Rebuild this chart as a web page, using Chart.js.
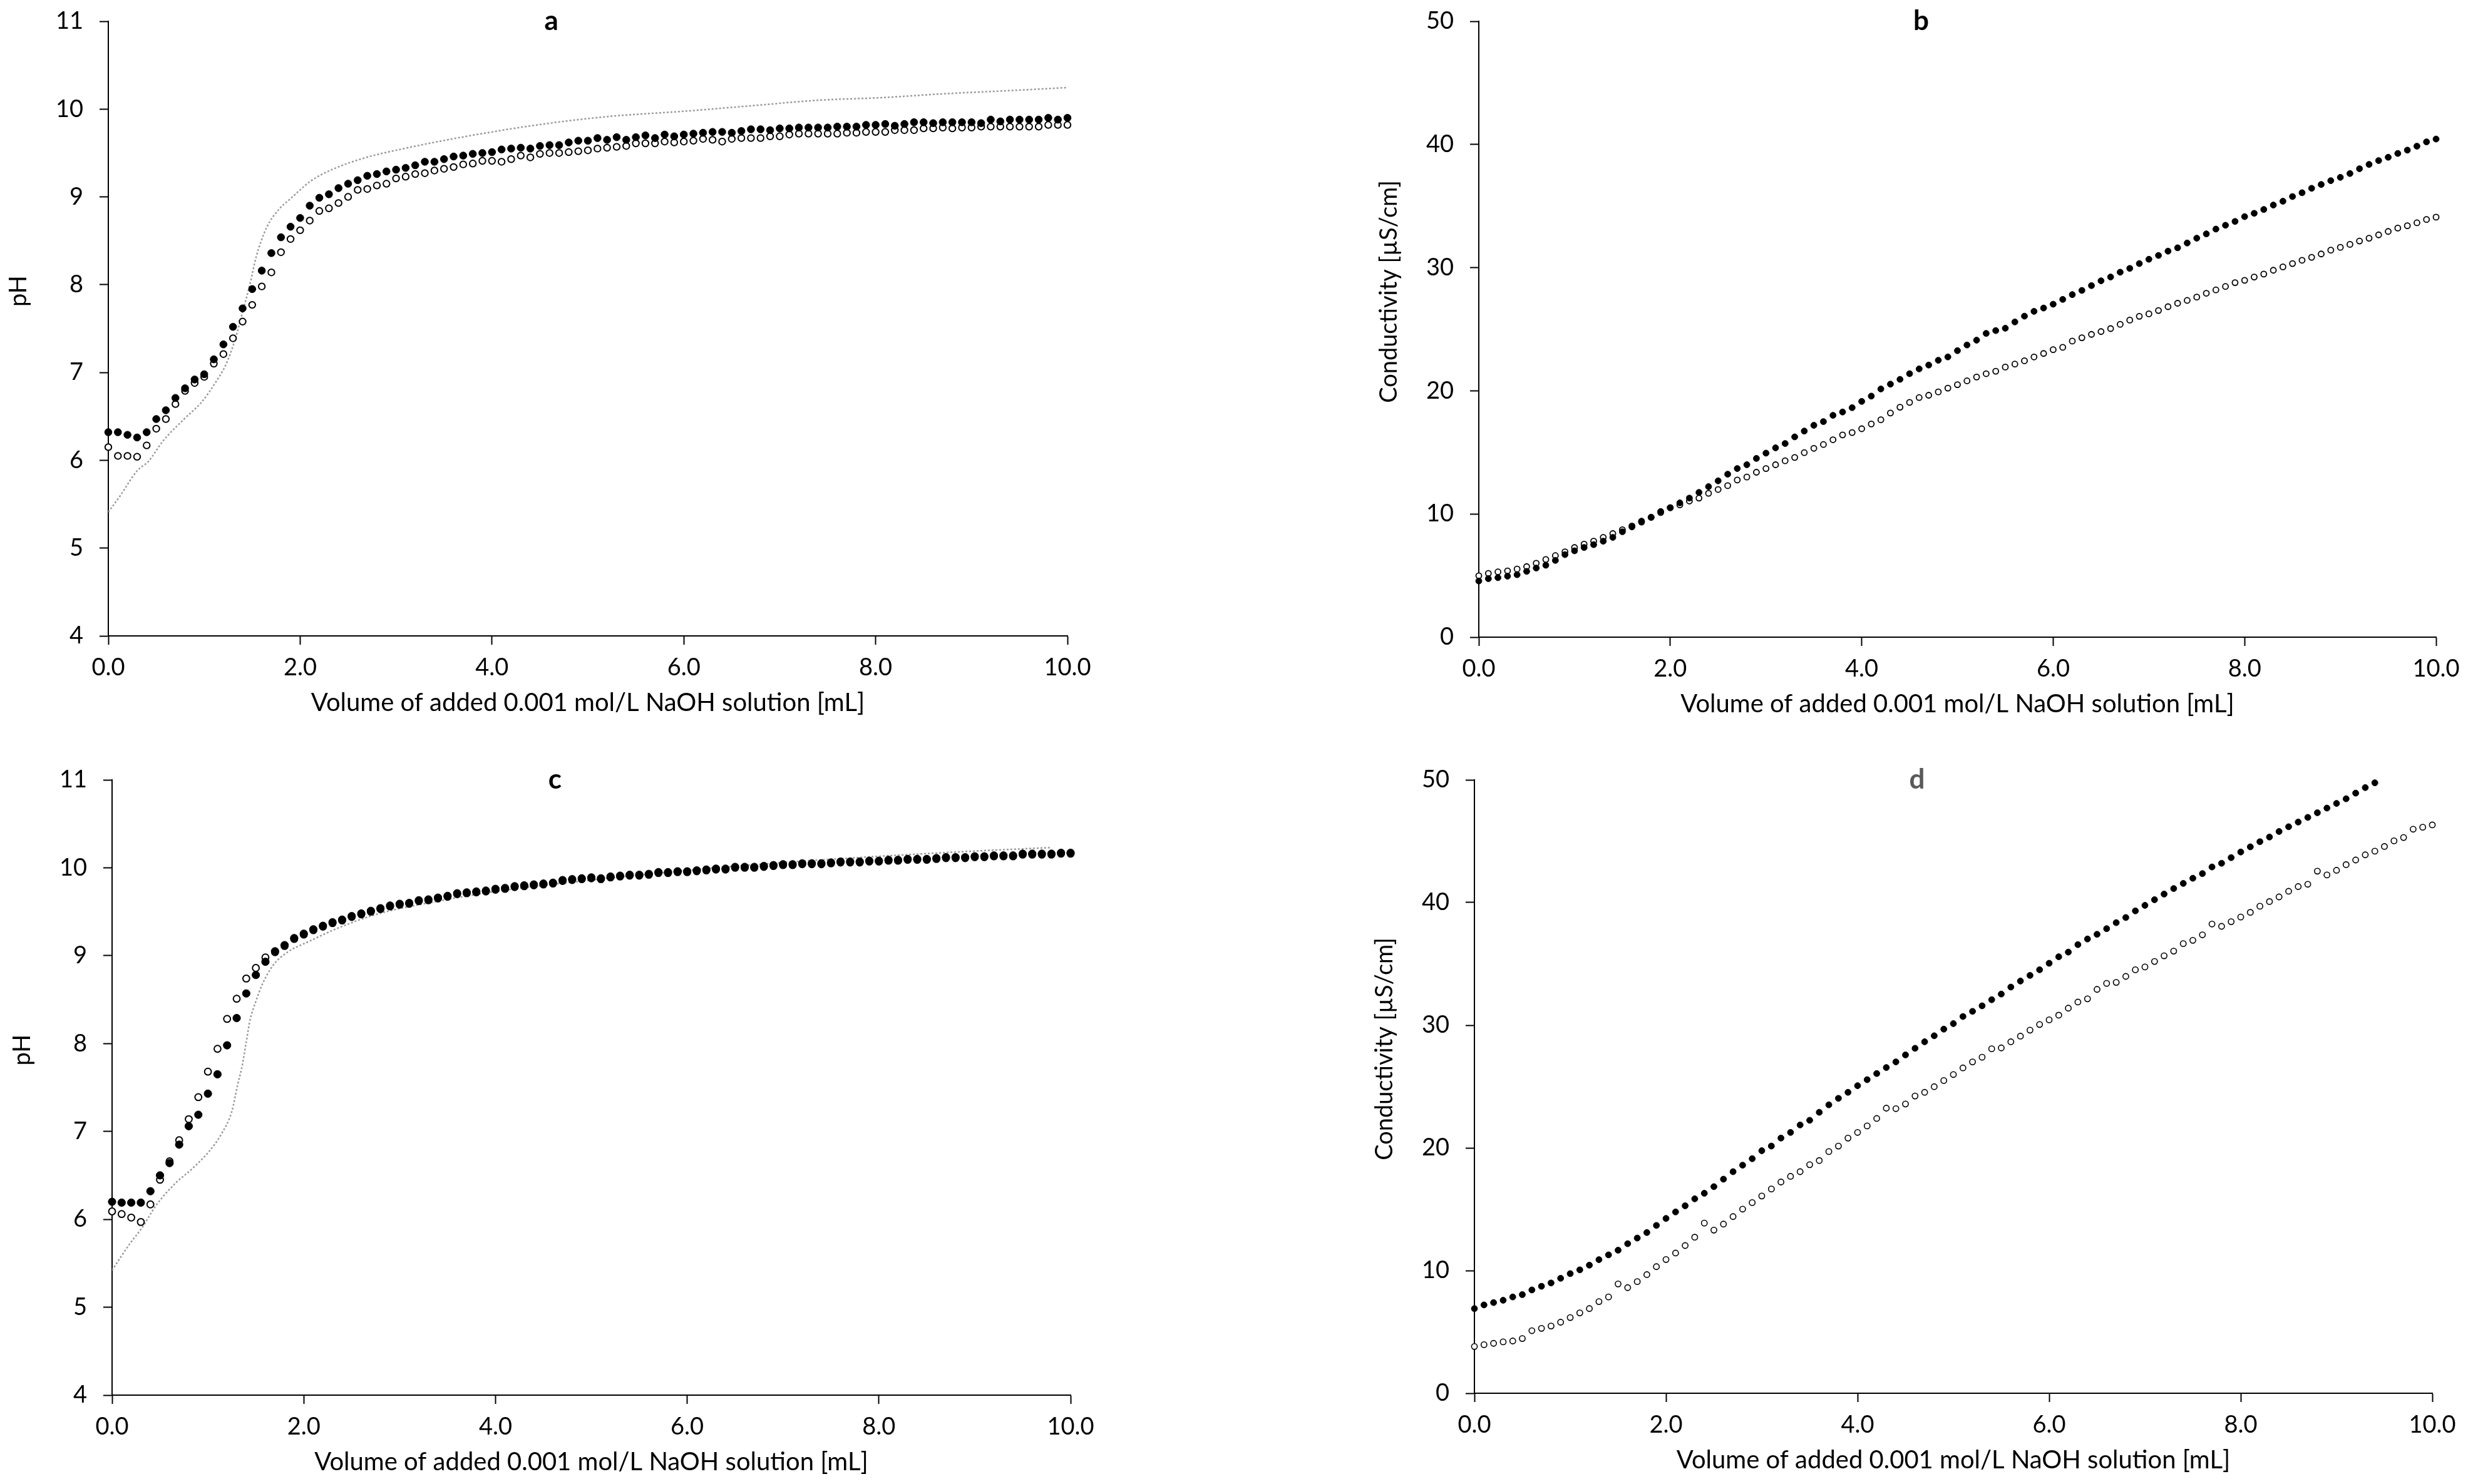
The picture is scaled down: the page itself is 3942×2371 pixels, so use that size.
<!DOCTYPE html>
<html>
<head>
<meta charset="utf-8">
<title>Titration with 0.001 mol/L NaOH</title>
<script src="https://cdn.jsdelivr.net/npm/chart.js@4.4.1/dist/chart.umd.min.js"></script>
<style>
    html, body { margin: 0; padding: 0; background: #ffffff; }
    body { width: 3942px; height: 2371px; position: relative; overflow: hidden; }
    canvas { position: absolute; }
</style>
</head>
<body>
<canvas id="chartA"></canvas>
<canvas id="chartB"></canvas>
<canvas id="chartC"></canvas>
<canvas id="chartD"></canvas>
<script>
// Volume of added NaOH [mL], one reading every 0.1 mL
const volume = [
    0.0, 0.1, 0.2, 0.3, 0.4, 0.5, 0.6, 0.7, 0.8, 0.9,
    1.0, 1.1, 1.2, 1.3, 1.4, 1.5, 1.6, 1.7, 1.8, 1.9,
    2.0, 2.1, 2.2, 2.3, 2.4, 2.5, 2.6, 2.7, 2.8, 2.9,
    3.0, 3.1, 3.2, 3.3, 3.4, 3.5, 3.6, 3.7, 3.8, 3.9,
    4.0, 4.1, 4.2, 4.3, 4.4, 4.5, 4.6, 4.7, 4.8, 4.9,
    5.0, 5.1, 5.2, 5.3, 5.4, 5.5, 5.6, 5.7, 5.8, 5.9,
    6.0, 6.1, 6.2, 6.3, 6.4, 6.5, 6.6, 6.7, 6.8, 6.9,
    7.0, 7.1, 7.2, 7.3, 7.4, 7.5, 7.6, 7.7, 7.8, 7.9,
    8.0, 8.1, 8.2, 8.3, 8.4, 8.5, 8.6, 8.7, 8.8, 8.9,
    9.0, 9.1, 9.2, 9.3, 9.4, 9.5, 9.6, 9.7, 9.8, 9.9,
    10.0
];

// panel a - pH
const phA_filled = [
    6.32, 6.32, 6.29, 6.26, 6.32, 6.47, 6.57, 6.71, 6.82, 6.92,
    6.98, 7.15, 7.32, 7.52, 7.73, 7.95, 8.16, 8.36, 8.54, 8.66,
    8.76, 8.90, 8.99, 9.03, 9.10, 9.15, 9.19, 9.24, 9.26, 9.29,
    9.31, 9.33, 9.36, 9.40, 9.40, 9.43, 9.46, 9.47, 9.49, 9.50,
    9.51, 9.54, 9.55, 9.56, 9.55, 9.58, 9.59, 9.59, 9.62, 9.64,
    9.64, 9.67, 9.65, 9.68, 9.65, 9.68, 9.70, 9.67, 9.71, 9.69,
    9.71, 9.72, 9.73, 9.74, 9.74, 9.73, 9.75, 9.77, 9.77, 9.76,
    9.78, 9.78, 9.79, 9.79, 9.79, 9.79, 9.80, 9.80, 9.80, 9.82,
    9.82, 9.83, 9.81, 9.83, 9.85, 9.85, 9.84, 9.85, 9.85, 9.85,
    9.85, 9.84, 9.88, 9.86, 9.88, 9.88, 9.88, 9.88, 9.90, 9.88,
    9.90
];
const phA_open = [
    6.15, 6.05, 6.05, 6.04, 6.17, 6.36, 6.47, 6.64, 6.79, 6.88,
    6.95, 7.10, 7.21, 7.39, 7.58, 7.77, 7.98, 8.14, 8.37, 8.52,
    8.62, 8.73, 8.84, 8.87, 8.93, 9.00, 9.08, 9.09, 9.13, 9.15,
    9.21, 9.23, 9.26, 9.27, 9.30, 9.32, 9.34, 9.37, 9.38, 9.41,
    9.41, 9.40, 9.43, 9.47, 9.45, 9.49, 9.50, 9.50, 9.51, 9.52,
    9.53, 9.55, 9.56, 9.57, 9.58, 9.61, 9.61, 9.61, 9.63, 9.62,
    9.63, 9.64, 9.66, 9.65, 9.63, 9.66, 9.67, 9.67, 9.67, 9.69,
    9.69, 9.71, 9.72, 9.72, 9.72, 9.72, 9.72, 9.73, 9.73, 9.74,
    9.74, 9.74, 9.76, 9.76, 9.76, 9.78, 9.78, 9.79, 9.78, 9.79,
    9.79, 9.80, 9.80, 9.80, 9.80, 9.80, 9.80, 9.80, 9.82, 9.82,
    9.82
];
// calculated curve (grey dotted line)
const curveA_vol = [0, 0.12, 0.3, 0.42, 0.57, 0.79, 0.97, 1.12, 1.23, 1.32, 1.41, 1.48, 1.54, 1.65, 1.78, 1.89,
    2.11, 2.33, 2.66, 3.08, 3.66, 4.41, 5.16, 6.06, 6.73, 7.39, 8.06, 8.72, 9.39, 10.0];
const curveA_pH = [5.41, 5.59, 5.88, 5.99, 6.22, 6.47, 6.66, 6.89, 7.10, 7.37, 7.73, 8.02, 8.31, 8.65, 8.86, 8.97,
    9.18, 9.31, 9.44, 9.55, 9.675, 9.81, 9.91, 9.98, 10.04, 10.10, 10.13, 10.175, 10.21, 10.245];

// panel b - conductivity [uS/cm]
const condB_filled = [
    4.56, 4.75, 4.83, 4.95, 5.07, 5.34, 5.61, 5.84, 6.23, 6.70,
    7.01, 7.28, 7.51, 7.79, 8.10, 8.56, 8.95, 9.42, 9.73, 10.20,
    10.51, 10.90, 11.29, 11.75, 12.22, 12.69, 13.23, 13.69, 14.00, 14.51,
    14.94, 15.37, 15.72, 16.26, 16.73, 17.20, 17.50, 18.01, 18.28, 18.63,
    19.14, 19.57, 20.15, 20.54, 20.93, 21.39, 21.78, 22.09, 22.48, 22.75,
    23.26, 23.72, 24.11, 24.66, 24.89, 25.08, 25.59, 26.06, 26.45, 26.72,
    27.03, 27.42, 27.81, 28.15, 28.54, 28.93, 29.24, 29.63, 29.94, 30.33,
    30.68, 30.99, 31.34, 31.61, 32.00, 32.39, 32.74, 33.13, 33.44, 33.75,
    34.14, 34.41, 34.72, 35.08, 35.39, 35.77, 36.08, 36.44, 36.75, 37.06,
    37.33, 37.64, 38.03, 38.38, 38.69, 38.96, 39.27, 39.54, 39.86, 40.21,
    40.44
];
const condB_open = [
    4.99, 5.18, 5.30, 5.38, 5.53, 5.73, 6.00, 6.31, 6.62, 6.93,
    7.28, 7.55, 7.79, 8.10, 8.41, 8.72, 9.03, 9.34, 9.73, 10.12,
    10.51, 10.74, 11.05, 11.29, 11.68, 11.99, 12.30, 12.76, 13.00, 13.39,
    13.69, 14.00, 14.32, 14.59, 14.98, 15.33, 15.64, 16.03, 16.42, 16.61,
    16.92, 17.31, 17.65, 18.20, 18.67, 19.06, 19.45, 19.64, 19.91, 20.22,
    20.50, 20.81, 21.12, 21.39, 21.59, 21.93, 22.17, 22.44, 22.75, 23.03,
    23.34, 23.53, 24.04, 24.31, 24.58, 24.81, 25.05, 25.40, 25.74, 26.05,
    26.25, 26.52, 26.83, 27.11, 27.34, 27.61, 27.92, 28.19, 28.47, 28.78,
    28.97, 29.24, 29.48, 29.79, 30.06, 30.33, 30.60, 30.84, 31.11, 31.42,
    31.65, 31.89, 32.16, 32.39, 32.66, 32.94, 33.21, 33.40, 33.64, 33.91,
    34.10
];

// panel c - pH
const phC_filled = [
    6.20, 6.19, 6.19, 6.19, 6.32, 6.50, 6.64, 6.85, 7.06, 7.19,
    7.43, 7.65, 7.98, 8.29, 8.57, 8.78, 8.93, 9.05, 9.12, 9.20,
    9.25, 9.30, 9.34, 9.38, 9.41, 9.45, 9.48, 9.51, 9.54, 9.57,
    9.59, 9.60, 9.63, 9.64, 9.66, 9.68, 9.71, 9.72, 9.73, 9.74,
    9.76, 9.77, 9.79, 9.80, 9.81, 9.82, 9.83, 9.86, 9.87, 9.88,
    9.89, 9.88, 9.90, 9.91, 9.92, 9.92, 9.93, 9.95, 9.95, 9.96,
    9.96, 9.97, 9.98, 9.99, 9.99, 10.01, 10.01, 10.01, 10.02, 10.03,
    10.04, 10.04, 10.05, 10.05, 10.05, 10.06, 10.07, 10.07, 10.07, 10.08,
    10.08, 10.09, 10.09, 10.10, 10.10, 10.10, 10.11, 10.12, 10.12, 10.12,
    10.13, 10.13, 10.14, 10.14, 10.14, 10.16, 10.16, 10.16, 10.16, 10.17,
    10.17
];
const phC_open = [
    6.09, 6.06, 6.02, 5.97, 6.17, 6.45, 6.66, 6.90, 7.14, 7.39,
    7.68, 7.94, 8.28, 8.51, 8.74, 8.86, 8.98, 9.04, 9.11, 9.19,
    9.24, 9.29, 9.33, 9.37, 9.40, 9.44, 9.47, 9.50, 9.53, 9.56,
    9.58, 9.59, 9.62, 9.63, 9.65, 9.67, 9.70, 9.71, 9.72, 9.73,
    9.75, 9.76, 9.78, 9.79, 9.80, 9.81, 9.82, 9.85, 9.86, 9.87,
    9.88, 9.87, 9.89, 9.90, 9.91, 9.91, 9.92, 9.94, 9.94, 9.95,
    9.95, 9.96, 9.97, 9.98, 9.98, 10.00, 10.00, 10.00, 10.01, 10.02,
    10.03, 10.03, 10.04, 10.04, 10.04, 10.05, 10.06, 10.06, 10.06, 10.07,
    10.07, 10.08, 10.08, 10.09, 10.09, 10.09, 10.10, 10.11, 10.11, 10.11,
    10.12, 10.12, 10.13, 10.13, 10.13, 10.15, 10.15, 10.15, 10.15, 10.16,
    10.16
];
const curveC_vol = [0, 0.09, 0.19, 0.31, 0.46, 0.66, 0.83, 1.01, 1.14, 1.25, 1.31, 1.36, 1.40, 1.44, 1.50, 1.57,
    1.68, 1.83, 2.05, 2.37, 2.79, 3.3, 4.0, 5.0, 6.0, 7.0, 8.0, 9.0, 9.8];
const curveC_pH = [5.42, 5.57, 5.73, 5.90, 6.16, 6.41, 6.57, 6.77, 6.97, 7.23, 7.53, 7.76, 8.02, 8.27, 8.48, 8.68,
    8.89, 9.04, 9.16, 9.32, 9.48, 9.60, 9.73, 9.86, 9.97, 10.06, 10.13, 10.19, 10.23];

// panel d - conductivity [uS/cm] (filled series stops at 9.4 mL)
const condD_filled = [
    6.90, 7.20, 7.39, 7.58, 7.85, 8.04, 8.42, 8.72, 8.99, 9.37,
    9.75, 10.06, 10.44, 10.89, 11.28, 11.66, 12.19, 12.65, 13.10, 13.68,
    14.25, 14.78, 15.28, 15.85, 16.30, 16.84, 17.45, 18.06, 18.59, 19.12,
    19.77, 20.15, 20.80, 21.26, 21.87, 22.25, 22.90, 23.51, 24.04, 24.53,
    25.07, 25.56, 26.06, 26.55, 27.01, 27.58, 28.12, 28.65, 29.14, 29.68,
    30.13, 30.71, 31.13, 31.58, 32.08, 32.54, 33.11, 33.60, 34.06, 34.52,
    35.05, 35.58, 35.96, 36.57, 37.03, 37.41, 37.87, 38.36, 38.78, 39.32,
    39.77, 40.23, 40.69, 41.14, 41.56, 41.98, 42.36, 42.90, 43.20, 43.66,
    44.12, 44.54, 44.96, 45.34, 45.79, 46.18, 46.56, 46.94, 47.32, 47.70,
    48.08, 48.46, 48.92, 49.37, 49.76
];
const condD_open = [
    3.81, 3.96, 4.07, 4.19, 4.26, 4.46, 5.10, 5.29, 5.48, 5.79,
    6.17, 6.55, 6.90, 7.47, 7.85, 8.91, 8.61, 9.10, 9.67, 10.32,
    10.90, 11.43, 12.04, 12.72, 13.87, 13.30, 13.79, 14.40, 15.01, 15.54,
    16.08, 16.65, 17.22, 17.68, 18.06, 18.63, 18.97, 19.70, 20.15, 20.80,
    21.26, 21.79, 22.40, 23.24, 23.20, 23.58, 24.23, 24.53, 24.99, 25.49,
    25.98, 26.52, 27.01, 27.39, 28.08, 28.15, 28.65, 29.11, 29.60, 30.06,
    30.44, 30.82, 31.39, 31.89, 32.15, 32.92, 33.41, 33.49, 33.98, 34.52,
    34.75, 35.20, 35.66, 36.04, 36.65, 36.92, 37.37, 38.25, 38.06, 38.44,
    38.82, 39.20, 39.70, 40.08, 40.46, 40.92, 41.30, 41.49, 42.56, 42.25,
    42.63, 43.09, 43.47, 43.89, 44.19, 44.57, 45.03, 45.30, 45.98, 46.14,
    46.33
];

const xTitle = "Volume of added 0.001 mol/L NaOH solution [mL]";
const fontFamily = "Lato, 'Open Sans', sans-serif";
const fontSize = 38;
const xTitleSize = 40;

// draws the panel letter and the rotated y title
const panelText = {
    id: "panelText",
    afterDraw(chart, args, opts)
    {
        const ctx = chart.ctx;
        const area = chart.chartArea;
        ctx.save();
        ctx.font = "bold 44px " + fontFamily;
        ctx.fillStyle = opts.letterColor;
        ctx.textAlign = "center";
        ctx.textBaseline = "alphabetic";
        ctx.fillText(opts.letter, chart.scales.x.getPixelForValue(4.62), area.top + 14);

        ctx.translate(area.left - 143, (area.top + area.bottom) / 2 - 60);
        ctx.rotate(-Math.PI / 2);
        ctx.font = fontSize + "px " + fontFamily;
        ctx.fillStyle = "#000000";
        ctx.textBaseline = "middle";
        ctx.fillText(opts.yTitle, 0, 0);
        ctx.restore();
    }
};

function toPoints(xs, ys)
{
    return ys.map((y, i) => ({ x: xs[i], y: y }));
}

function makePanel(id, box, area, cfg)
{
    const canvas = document.getElementById(id);
    canvas.width = box.w;
    canvas.height = box.h;
    canvas.style.left = box.x + "px";
    canvas.style.top = box.y + "px";
    canvas.style.width = box.w + "px";
    canvas.style.height = box.h + "px";

    const lineHeight = xTitleSize * 1.2;
    const xAxisHeight = 107 + lineHeight / 2; // title centre sits ~107px under the axis

    const datasets = [
        {
            label: "filled",
            data: toPoints(volume, cfg.filled),
            pointRadius: cfg.rFilled,
            pointBorderWidth: 1,
            pointBackgroundColor: "#000000",
            pointBorderColor: "#000000",
            showLine: false,
            clip: false
        },
        {
            label: "open",
            data: toPoints(volume, cfg.open),
            pointRadius: cfg.rOpen,
            pointBorderWidth: cfg.bwOpen,
            pointBackgroundColor: "#ffffff",
            pointBorderColor: "#000000",
            showLine: false,
            clip: false
        }
    ];
    if (cfg.curveX)
    {
        datasets.push({
            label: "calculated",
            data: toPoints(cfg.curveX, cfg.curveY),
            showLine: true,
            pointRadius: 0,
            borderColor: "#9b9b9b",
            borderWidth: 2.5,
            borderDash: [3, 3],
            cubicInterpolationMode: "monotone",
            fill: false
        });
    }

    const tickFont = { family: fontFamily, size: fontSize };
    const grid = {
        drawOnChartArea: false,
        drawTicks: true,
        tickLength: 14,
        tickWidth: 2,
        tickColor: "#000000"
    };

    new Chart(canvas, {
        type: "scatter",
        data: { datasets: datasets },
        options: {
            responsive: false,
            animation: false,
            devicePixelRatio: 1,
            layout: {
                padding: {
                    left: 0,
                    top: area.top - box.y,
                    right: box.x + box.w - area.right,
                    bottom: box.y + box.h - (area.bottom + xAxisHeight)
                }
            },
            plugins: {
                legend: { display: false },
                tooltip: { enabled: false },
                panelText: { letter: cfg.letter, letterColor: cfg.letterColor, yTitle: cfg.yTitle }
            },
            scales: {
                x: {
                    type: "linear",
                    min: 0,
                    max: 10,
                    grid: grid,
                    border: { display: true, color: "#000000", width: 2 },
                    ticks: {
                        stepSize: 2,
                        padding: 14,
                        color: "#000000",
                        font: tickFont,
                        maxRotation: 0,
                        callback: (v) => v.toFixed(1)
                    },
                    title: {
                        display: true,
                        text: xTitle,
                        color: "#000000",
                        font: { family: fontFamily, size: xTitleSize },
                        padding: 0
                    },
                    afterFit: (s) => {
                        s.height = xAxisHeight;
                        s.paddingLeft = 0;
                        s.paddingRight = 0;
                    }
                },
                y: {
                    type: "linear",
                    min: cfg.yMin,
                    max: cfg.yMax,
                    grid: grid,
                    border: { display: true, color: "#000000", width: 2 },
                    ticks: {
                        stepSize: cfg.yStep,
                        padding: 26,
                        color: "#000000",
                        font: tickFont
                    },
                    afterFit: (s) => {
                        s.width = area.left - box.x;
                        s.paddingTop = 0;
                        s.paddingBottom = 0;
                    }
                }
            }
        },
        plugins: [panelText]
    });
}

makePanel("chartA",
    { x: 0, y: 0, w: 1960, h: 1185 },
    { left: 173, right: 1705, top: 34, bottom: 1016 },
    { filled: phA_filled, open: phA_open, curveX: curveA_vol, curveY: curveA_pH,
      rFilled: 5.8, rOpen: 5.2, bwOpen: 2, yMin: 4, yMax: 11, yStep: 1,
      letter: "a", letterColor: "#000000", yTitle: "pH" });

makePanel("chartB",
    { x: 1960, y: 0, w: 1982, h: 1185 },
    { left: 2362, right: 3891, top: 34, bottom: 1018 },
    { filled: condB_filled, open: condB_open,
      rFilled: 4.9, rOpen: 4.5, bwOpen: 1.8, yMin: 0, yMax: 50, yStep: 10,
      letter: "b", letterColor: "#000000", yTitle: "Conductivity [µS/cm]" });

makePanel("chartC",
    { x: 0, y: 1185, w: 1960, h: 1186 },
    { left: 179, right: 1710, top: 1246, bottom: 2229 },
    { filled: phC_filled, open: phC_open, curveX: curveC_vol, curveY: curveC_pH,
      rFilled: 6.1, rOpen: 5.4, bwOpen: 2, yMin: 4, yMax: 11, yStep: 1,
      letter: "c", letterColor: "#000000", yTitle: "pH" });

makePanel("chartD",
    { x: 1960, y: 1185, w: 1982, h: 1186 },
    { left: 2355, right: 3885, top: 1246, bottom: 2226 },
    { filled: condD_filled, open: condD_open,
      rFilled: 4.9, rOpen: 4.6, bwOpen: 1.6, yMin: 0, yMax: 50, yStep: 10,
      letter: "d", letterColor: "#595959", yTitle: "Conductivity [µS/cm]" });
</script>
</body>
</html>
